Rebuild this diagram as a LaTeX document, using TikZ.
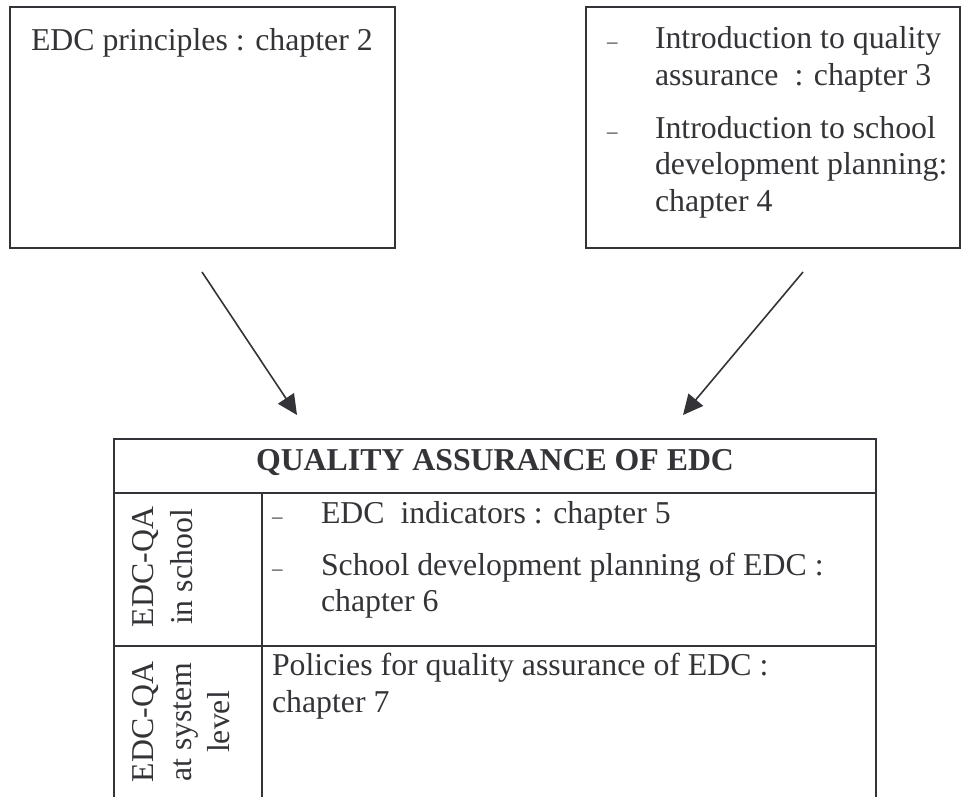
\documentclass[tikz,border=0pt]{standalone}
\usepackage{fontspec}
\setmainfont{Liberation Serif}
\usetikzlibrary{arrows.meta}
\definecolor{ink}{RGB}{52,52,56}
\begin{document}
\begin{tikzpicture}[x=1pt,y=-1pt,
  every node/.style={inner sep=0pt, outer sep=0pt, text=ink},
  txt/.style={font=\fontsize{31.8}{37}\selectfont, anchor=base west},
  dashmark/.style={font=\fontsize{21}{24}\selectfont, anchor=base west},
  boxframe/.style={draw=ink, line width=2pt, anchor=north west},
  tline/.style={draw=ink, line width=2.2pt},
  conn/.style={draw=ink, line width=1.6pt, -{Triangle[length=20pt,width=19pt]}},
  vtxt/.style={font=\fontsize{31.8}{37}\selectfont, rotate=90, anchor=base},
  titletxt/.style={font=\bfseries\fontsize{31.8}{37}\selectfont, anchor=base}]

\useasboundingbox (0,0) rectangle (961,796);

% top boxes
\node[boxframe, minimum width=385pt, minimum height=241pt] (leftbox) at (10,7) {};
\node[boxframe, minimum width=374pt, minimum height=241pt] (rightbox) at (586,7) {};

\node[txt] (ch2) at (31,50) {EDC principles : chapter 2};

\node[dashmark] (d3) at (607,48) {–};
\node[txt] (ch3a) at (655,48) {Introduction to quality};
\node[txt] (ch3b) at (655,85) {assurance\ \ : chapter 3};
\node[dashmark] (d4) at (607,138) {–};
\node[txt] (ch4a) at (655,138) {Introduction to school};
\node[txt] (ch4b) at (655,174) {development planning:};
\node[txt] (ch4c) at (655,211) {chapter 4};

% arrows
\coordinate (a1s) at (202,272);
\coordinate (a1e) at (297,415);
\coordinate (a2s) at (803,272);
\coordinate (a2e) at (683,415);
\draw[conn] (a1s) -- (a1e);
\draw[conn] (a2s) -- (a2e);

% table
\begin{scope}
\clip (0,0) rectangle (961,796);
\draw[tline] (114,812) -- (114,439) -- (876,439) -- (876,812);
\draw[tline] (114,493) -- (876,493);
\draw[tline] (114,646) -- (876,646);
\draw[tline] (262,493) -- (262,812);
\end{scope}

\node[titletxt] (title) at (495,470) {QUALITY ASSURANCE OF EDC};

\node[vtxt] (r1a) at (153,567) {EDC-QA};
\node[vtxt] (r1b) at (192,567) {in school};
\node[vtxt] (r2a) at (153,722) {EDC-QA};
\node[vtxt] (r2b) at (191,722) {at system};
\node[vtxt] (r2c) at (229,722) {level};

\node[dashmark] (d5) at (272,523) {–};
\node[txt] (ch5) at (321,523) {EDC\ \ indicators : chapter 5};
\node[dashmark] (d6) at (272,575) {–};
\node[txt] (ch6a) at (321,575) {School development planning of EDC :};
\node[txt] (ch6b) at (321,611) {chapter 6};

\node[txt] (ch7a) at (272,675) {Policies for quality assurance of EDC :};
\node[txt] (ch7b) at (272,712) {chapter 7};
\end{tikzpicture}
\end{document}
